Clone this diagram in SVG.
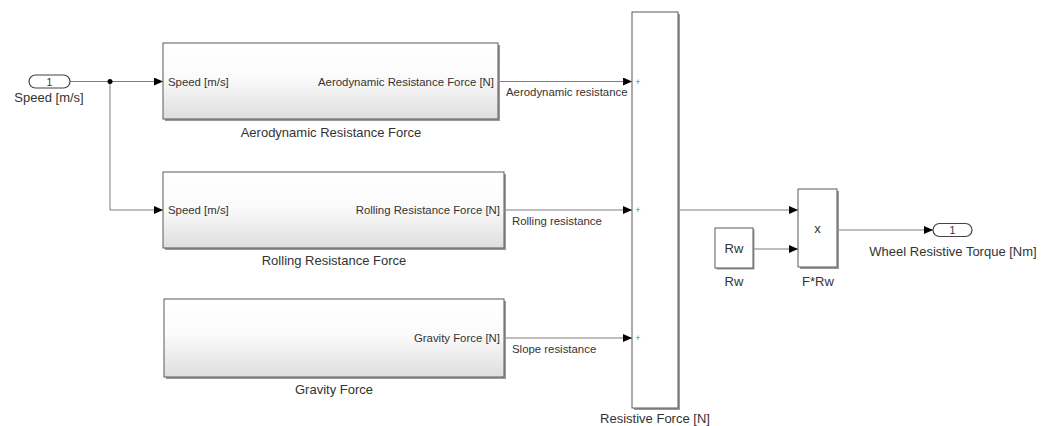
<svg xmlns="http://www.w3.org/2000/svg" width="1048" height="426" viewBox="0 0 1048 426">
<defs>
<linearGradient id="g" x1="0" y1="0" x2="0" y2="1">
<stop offset="0" stop-color="#ffffff"/>
<stop offset="0.45" stop-color="#fbfbfb"/>
<stop offset="1" stop-color="#dedede"/>
</linearGradient>
<marker id="arr" markerWidth="10" markerHeight="8" refX="9" refY="4" orient="auto" markerUnits="userSpaceOnUse">
<path d="M0,0 L9,4 L0,8 Z" fill="#000"/>
</marker>
</defs>
<style>
.blk{fill:url(#g);stroke:#5a5a5a;stroke-width:1}
.plain{fill:#fff;stroke:#5a5a5a;stroke-width:1}
.shd{fill:#9a9a9a}
.port{fill:#fff;stroke:#444;stroke-width:1.2}
text{font-family:"Liberation Sans",Arial,sans-serif;fill:#333}
.lbl{font-size:13px;text-anchor:middle}
.pl{font-size:11.4px}
.sig{font-size:11.4px}
.plus{font-size:9px;text-anchor:middle;fill:#777}
.w{stroke:#7d7d7d;stroke-width:1;fill:none}
</style>
<rect width="1048" height="426" fill="#fff"/>

<g id="connectors">
<path class="w" d="M70,81.5 H163" marker-end="url(#arr)"/>
<path class="w" d="M110,81.5 V210 H163" marker-end="url(#arr)"/>
<circle cx="110" cy="81.5" r="2.5" fill="#000"/>
<path class="w" d="M498,81.5 H632" marker-end="url(#arr)"/>
<path class="w" d="M504,210 H632" marker-end="url(#arr)"/>
<path class="w" d="M504,338 H632" marker-end="url(#arr)"/>
<path class="w" d="M678,210 H798" marker-end="url(#arr)"/>
<path class="w" d="M753,249 H798" marker-end="url(#arr)"/>
<path class="w" d="M837,230 H933" marker-end="url(#arr)"/>
<text class="sig" x="506" y="95.5">Aerodynamic resistance</text>
<text class="sig" x="512" y="224.5">Rolling resistance</text>
<text class="sig" x="512" y="352.5">Slope resistance</text>
</g>

<g id="in1">
<rect class="port" x="29" y="75" width="41" height="13" rx="6.5"/>
<text x="49.5" y="85.5" font-size="10.5" text-anchor="middle">1</text>
<text class="lbl" x="49" y="101.5" font-size="11.8">Speed [m/s]</text>
</g>

<g id="aero">
<rect class="shd" x="165" y="45" width="335" height="76"/>
<rect class="blk" x="163" y="43" width="335" height="76"/>
<text class="pl" x="168" y="85.5">Speed [m/s]</text>
<text class="pl" x="494" y="85.5" text-anchor="end">Aerodynamic Resistance Force [N]</text>
<text class="lbl" x="331" y="136.5">Aerodynamic Resistance Force</text>
</g>

<g id="rolling">
<rect class="shd" x="165" y="174" width="341" height="76"/>
<rect class="blk" x="163" y="172" width="341" height="76"/>
<text class="pl" x="168" y="214">Speed [m/s]</text>
<text class="pl" x="500" y="214" text-anchor="end">Rolling Resistance Force [N]</text>
<text class="lbl" x="334" y="264.5">Rolling Resistance Force</text>
</g>

<g id="gravity">
<rect class="shd" x="166" y="301" width="340" height="78"/>
<rect class="blk" x="164" y="299" width="340" height="78"/>
<text class="pl" x="500" y="342" text-anchor="end">Gravity Force [N]</text>
<text class="lbl" x="334" y="393.5">Gravity Force</text>
</g>

<g id="sum">
<rect class="shd" x="634" y="14" width="46" height="396"/>
<rect class="plain" x="632" y="12" width="46" height="396"/>
<text class="plus" x="638" y="84.5">+</text>
<text class="plus" x="638" y="213">+</text>
<text class="plus" x="638" y="341">+</text>
<text class="lbl" x="655" y="423" font-size="12">Resistive Force [N]</text>
</g>

<g id="rw">
<rect class="shd" x="716.5" y="229.5" width="38" height="40"/>
<rect class="plain" x="715" y="228" width="38" height="40"/>
<text class="lbl" x="734" y="252.5" font-size="12.5">Rw</text>
<text class="lbl" x="734" y="285.5" font-size="12.5">Rw</text>
</g>

<g id="product">
<rect class="shd" x="800" y="191" width="39" height="78"/>
<rect class="plain" x="798" y="189" width="39" height="78"/>
<text class="lbl" x="817.5" y="233" font-size="11.5">x</text>
<text class="lbl" x="818" y="285.5" font-size="12.5">F*Rw</text>
</g>

<g id="out1">
<rect class="port" x="933" y="223.5" width="39" height="13" rx="6.5"/>
<text x="952.5" y="234" font-size="10.5" text-anchor="middle">1</text>
<text class="lbl" x="953" y="256" font-size="12.5">Wheel Resistive Torque [Nm]</text>
</g>
</svg>
